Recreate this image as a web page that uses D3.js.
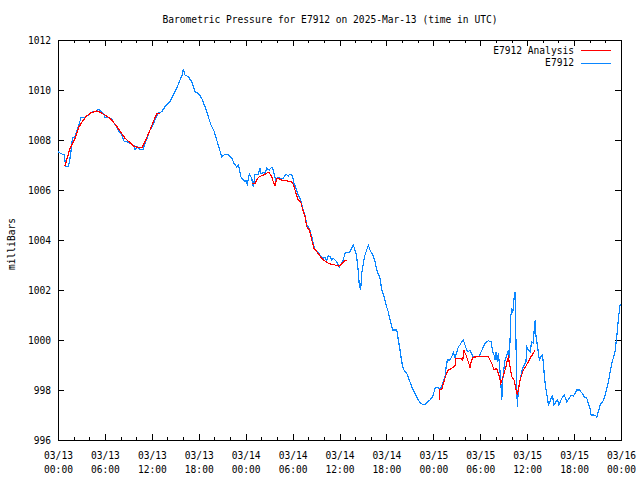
<!DOCTYPE html>
<html><head><meta charset="utf-8">
<script src="https://cdn.jsdelivr.net/npm/d3@7/dist/d3.min.js"></script>
<style>
body{margin:0;background:#fff;}
text{font-family:"DejaVu Sans Mono","Liberation Mono",monospace;font-size:9.6px;fill:#000;}
</style></head>
<body><svg id="c" width="640" height="480"></svg>
<script>
// ---- data (hours since 2025-03-13 00:00 UTC, pressure in mb) ----
const titleText = "Barometric Pressure for E7912 on 2025-Mar-13 (time in UTC)";
const yLabel = "milliBars";
const seriesNames = ["E7912 Analysis", "E7912"];
const yTicks = [996, 998, 1000, 1002, 1004, 1006, 1008, 1010, 1012];
const xTickHours = [0, 6, 12, 18, 24, 30, 36, 42, 48, 54, 60, 66, 72];
const xTickDates = ["03/13","03/13","03/13","03/13","03/14","03/14","03/14","03/14","03/15","03/15","03/15","03/15","03/16"];
const xTickTimes = ["00:00","06:00","12:00","18:00","00:00","06:00","12:00","18:00","00:00","06:00","12:00","18:00","00:00"];

const obsHours = [0.00,0.55,0.81,0.98,1.32,1.53,1.75,1.83,2.17,2.39,2.60,2.94,3.45,3.88,4.22,4.73,5.24,5.50,5.92,6.01,
6.52,6.87,7.07,7.29,7.51,7.80,8.15,8.48,8.79,9.21,9.76,9.85,10.19,10.49,10.91,11.13,11.47,11.77,12.11,12.41,
12.83,13.26,13.68,14.32,14.75,15.18,15.60,15.90,16.03,16.24,16.66,17.10,17.52,17.94,18.38,18.80,19.22,19.57,19.99,20.42,
20.94,21.36,21.87,22.22,22.51,22.85,23.06,23.19,23.37,23.70,23.92,24.04,24.21,24.47,24.77,24.98,25.19,25.62,25.83,25.96,
26.26,26.47,26.69,27.02,27.33,27.53,27.88,28.05,28.39,28.81,29.16,29.45,29.67,29.97,30.18,30.44,30.73,31.04,31.30,31.59,
31.81,32.14,32.45,32.65,32.87,33.16,33.51,33.85,34.15,34.36,34.57,34.79,35.00,35.21,35.64,35.98,36.41,36.71,36.92,37.34,
37.56,37.77,38.11,38.33,38.53,38.71,38.84,39.05,39.26,39.48,39.69,39.90,40.25,40.54,40.84,41.18,41.40,41.69,41.95,42.24,
42.46,42.81,43.32,43.52,43.74,43.96,44.16,44.60,44.93,45.24,45.66,46.08,46.39,46.81,47.15,47.58,47.92,48.22,48.64,48.86,
49.20,49.49,49.62,49.79,50.13,50.35,50.56,50.77,50.99,51.20,51.41,51.63,51.84,52.05,52.27,52.47,52.69,52.91,53.11,53.55,
53.88,54.06,54.32,54.61,55.03,55.38,55.60,55.76,55.89,56.02,56.18,56.31,56.44,56.62,56.75,56.87,57.04,57.17,57.39,57.59,
57.72,57.81,57.90,58.03,58.15,58.32,58.45,58.54,58.66,58.74,58.87,59.09,59.30,59.51,59.85,59.94,60.15,60.37,60.58,60.79,
60.92,61.04,61.13,61.30,61.56,61.74,61.90,62.07,62.20,62.37,62.58,62.71,62.92,63.22,63.43,63.69,63.91,64.07,64.42,64.75,
65.06,65.39,65.61,65.90,66.12,66.34,66.67,66.98,67.31,67.62,67.82,68.04,68.17,68.46,68.81,68.90,69.10,69.32,69.66,69.83,
70.09,70.25,70.51,70.69,70.94,71.24,71.46,71.67,71.88,71.97];
const obsPressure = [1007.53,1007.43,1007.40,1006.93,1006.93,1007.27,1007.73,1008.07,1008.13,1008.33,1008.53,1008.89,1008.89,1009.00,1009.11,1009.13,1009.23,1009.13,1009.03,1008.91,
1008.91,1008.83,1008.73,1008.60,1008.53,1008.33,1008.20,1007.93,1007.93,1007.87,1007.76,1007.63,1007.73,1007.63,1007.63,1007.87,1008.13,1008.40,1008.60,1008.80,
1009.07,1009.13,1009.33,1009.53,1009.80,1010.07,1010.40,1010.60,1010.83,1010.60,1010.53,1010.33,1009.93,1009.87,1009.67,1009.33,1008.93,1008.60,1008.33,1007.87,
1007.33,1007.43,1007.40,1007.27,1007.07,1006.93,1007.00,1006.87,1006.53,1006.40,1006.33,1006.40,1006.24,1006.63,1006.47,1006.11,1006.63,1006.63,1006.87,1006.67,
1006.69,1006.67,1006.87,1006.80,1006.91,1006.80,1006.33,1006.51,1006.47,1006.47,1006.63,1006.56,1006.64,1006.56,1006.27,1006.07,1005.80,1005.60,1005.27,1005.00,
1004.60,1004.47,1004.13,1003.87,1003.60,1003.53,1003.40,1003.27,1003.29,1003.17,1003.36,1003.33,1003.20,1003.27,1003.13,1002.93,1003.13,1003.47,1003.49,1003.53,
1003.67,1003.80,1003.47,1003.00,1002.20,1002.00,1002.67,1003.07,1003.40,1003.60,1003.80,1003.60,1003.40,1003.13,1002.73,1002.47,1002.00,1001.73,1001.40,1001.13,
1000.80,1000.40,1000.40,1000.00,999.60,999.13,998.83,998.67,998.40,998.13,997.87,997.60,997.47,997.40,997.49,997.60,997.73,998.07,998.11,998.00,
998.27,998.53,998.87,999.20,999.20,999.33,999.49,999.31,999.49,999.73,999.80,999.93,1000.00,999.80,999.60,999.53,999.60,999.44,999.33,999.33,
999.36,999.49,999.67,999.87,999.97,999.93,999.53,999.40,999.20,999.53,999.13,999.47,999.07,998.40,997.60,998.40,998.87,999.20,999.40,999.60,
999.27,1000.00,1000.93,1001.27,1001.07,1001.67,1001.93,1000.40,998.40,997.33,998.00,998.40,998.73,998.93,999.13,999.73,999.60,999.53,999.93,999.87,
1000.53,1000.80,1000.13,999.80,999.20,999.33,999.40,999.13,998.53,998.07,997.73,997.40,997.53,997.80,997.40,997.53,997.60,997.40,997.67,997.80,
997.53,997.67,997.80,997.76,997.87,998.00,998.00,997.89,997.73,997.67,997.47,997.27,997.00,997.00,996.96,996.91,997.13,997.40,997.53,997.67,
997.93,998.13,998.53,998.87,999.20,999.53,1000.13,1000.87,1001.40,1001.40];

// analysis series; null marks a gap between segments
const anaHours = [0.90,1.53,2.17,2.69,3.24,3.67,4.22,4.95,5.37,6.01,6.65,7.29,7.93,8.57,9.21,9.76,10.27,10.78,11.22,11.77,12.19,12.62,13.05,
null,
24.77,25.19,25.62,26.05,26.47,26.77,27.02,27.33,27.53,27.75,27.97,28.39,28.81,29.25,29.67,29.97,30.18,30.44,30.73,31.04,31.30,31.59,31.81,32.14,32.45,32.74,33.09,33.42,33.73,34.15,34.57,35.00,35.43,35.85,36.28,36.49,36.71,37.00,
null,
48.76,48.78,49.07,49.28,49.62,49.92,50.35,50.77,50.90,51.41,51.76,51.92,52.18,52.47,52.69,52.91,53.11,53.55,54.19,55.03,55.47,55.76,56.10,56.44,56.62,56.87,57.04,57.30,57.46,57.59,57.81,58.03,58.32,58.54,58.74,58.87,59.09,59.30,59.51,59.85,60.15,60.45,60.79,61.01];
const anaPressure = [1006.97,1007.67,1008.07,1008.53,1008.80,1008.96,1009.09,1009.16,1009.11,1009.00,1008.87,1008.64,1008.36,1008.07,1007.89,1007.73,1007.71,1007.71,1008.00,1008.40,1008.73,1009.04,1009.07,
null,
1006.24,1006.27,1006.51,1006.57,1006.63,1006.69,1006.69,1006.53,1006.33,1006.16,1006.47,1006.43,1006.37,1006.37,1006.33,1006.31,1006.13,1005.87,1005.60,1005.53,1005.20,1004.93,1004.53,1004.40,1004.00,1003.67,1003.53,1003.40,1003.27,1003.16,1003.07,1003.03,1003.00,1002.96,1003.03,1003.13,1003.17,1003.20,
null,
997.60,998.00,998.03,998.27,998.60,998.80,998.87,998.96,999.27,999.27,999.20,999.57,999.40,999.13,998.91,999.20,999.31,999.33,999.33,999.33,999.07,998.80,998.87,998.53,998.27,998.47,998.67,998.93,999.20,999.31,998.93,998.53,998.40,998.07,997.80,998.00,998.40,998.60,998.80,998.96,999.13,999.31,999.47,999.60];

// ---- drawing ----
const T0 = Date.UTC(2025, 2, 13);
const H = 3600 * 1000;
const toDate = h => new Date(T0 + h * H);
const L = 58, R = 621, TOP = 40, BOT = 440;
const colA = "#ff0000", colO = "#0a86ff";

const svg = d3.select("#c");
const x = d3.scaleUtc().domain([toDate(0), toDate(72)]).range([L, R]);
const y = d3.scaleLinear().domain([996, 1012]).range([BOT, TOP]);

const minorTicks = d3.range(0, 73, 2).map(toDate);
const majorTicks = xTickHours.map(toDate);

function styleAxis(g) {
  g.select(".domain").remove();
  g.selectAll("line").attr("stroke", "#000").attr("shape-rendering", "crispEdges");
}
// minor x ticks bottom/top
svg.append("g").attr("transform", `translate(0,${BOT})`)
  .call(d3.axisBottom(x).tickValues(minorTicks).tickSize(-3).tickFormat("")).call(styleAxis);
svg.append("g").attr("transform", `translate(0,${TOP})`)
  .call(d3.axisTop(x).tickValues(minorTicks).tickSize(-3).tickFormat("")).call(styleAxis);
// major x ticks
const xb = svg.append("g").attr("transform", `translate(0,${BOT})`)
  .call(d3.axisBottom(x).tickValues(majorTicks).tickSize(-6).tickPadding(0).tickFormat(""));
xb.call(styleAxis);
xb.selectAll(".tick").each(function(d, i) {
  const t = d3.select(this).append("text").attr("text-anchor", "middle");
  t.append("tspan").attr("x", 0).attr("y", 19).text(xTickDates[i]);
  t.append("tspan").attr("x", 0).attr("y", 33).text(xTickTimes[i]);
});
svg.append("g").attr("transform", `translate(0,${TOP})`)
  .call(d3.axisTop(x).tickValues(majorTicks).tickSize(-6).tickFormat("")).call(styleAxis);
// y ticks
const yl = svg.append("g").attr("transform", `translate(${L},0)`)
  .call(d3.axisLeft(y).tickValues(yTicks).tickSize(-6).tickPadding(7).tickFormat(d3.format("d")));
yl.call(styleAxis);
yl.selectAll("text").attr("dy", "0.35em").attr("fill", "#000");
yl.attr("font-family", null).attr("font-size", null);
xb.attr("font-family", null).attr("font-size", null);
svg.append("g").attr("transform", `translate(${R},0)`)
  .call(d3.axisRight(y).tickValues(yTicks).tickSize(-6).tickFormat("")).call(styleAxis);

// frame
svg.append("rect").attr("x", L + 0.5).attr("y", TOP + 0.5).attr("width", R - L).attr("height", BOT - TOP)
  .attr("fill", "none").attr("stroke", "#000").attr("stroke-width", 1);

// lines
const obs = obsHours.map((h, i) => ({ t: toDate(h), v: obsPressure[i] }));
const ana = anaHours.map((h, i) => ({ t: h == null ? null : toDate(h), v: anaPressure[i] }));
const line = d3.line().defined(d => d.t != null && d.v != null).x(d => x(d.t)).y(d => y(d.v));

svg.append("path").datum(obs).attr("d", line).attr("fill", "none").attr("stroke", colO)
  .attr("stroke-width", 1.2).attr("shape-rendering", "crispEdges");
svg.append("path").datum(ana).attr("d", line).attr("fill", "none").attr("stroke", colA)
  .attr("stroke-width", 1.2).attr("shape-rendering", "crispEdges");

// title & y label
svg.append("text").attr("x", 330).attr("y", 23).attr("text-anchor", "middle").text(titleText);
svg.append("text").attr("transform", "translate(15,244) rotate(-90)").attr("text-anchor", "middle").text(yLabel);

// legend
const legCols = [colA, colO];
seriesNames.forEach((n, i) => {
  const yy = 50 + i * 12.5;
  svg.append("text").attr("x", 574).attr("y", yy + 3.5).attr("text-anchor", "end").text(n);
  svg.append("line").attr("x1", 581).attr("x2", 611).attr("y1", yy + 0.5).attr("y2", yy + 0.5)
    .attr("stroke", legCols[i]).attr("stroke-width", 1).attr("shape-rendering", "crispEdges");
});
</script></body></html>
